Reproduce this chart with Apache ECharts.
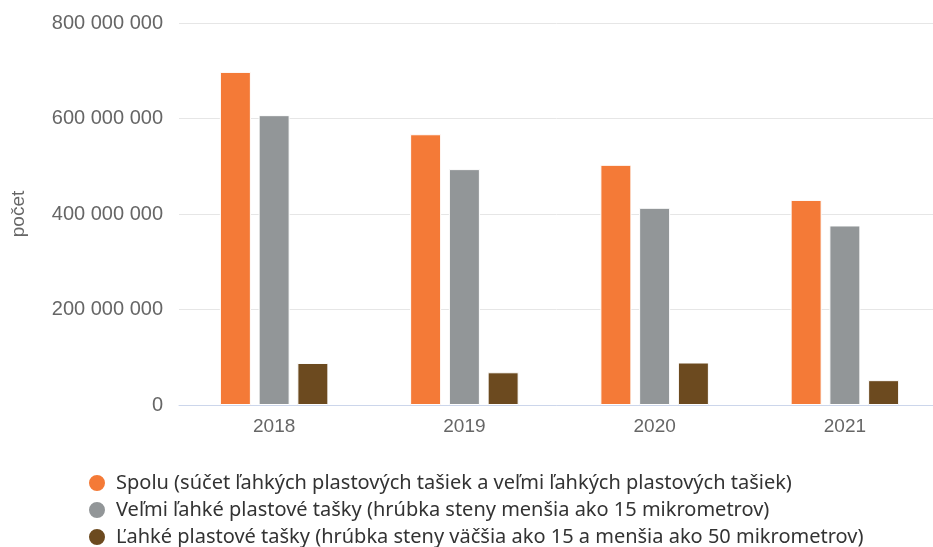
<!DOCTYPE html>
<html>
<head>
<meta charset="utf-8">
<script src="https://cdn.jsdelivr.net/npm/echarts@6/dist/echarts.min.js"></script>
<style>
html,body{margin:0;padding:0;background:#fff;}
#chart{width:933px;height:547px;}
</style>
</head>
<body>
<div id="chart"></div>
<script>
var years = ['2018', '2019', '2020', '2021'];
var seriesNames = [
  'Spolu (súčet ľahkých plastových tašiek a veľmi ľahkých plastových tašiek)',
  'Veľmi ľahké plastové tašky (hrúbka steny menšia ako 15 mikrometrov)',
  'Ľahké plastové tašky (hrúbka steny väčšia ako 15 a menšia ako 50 mikrometrov)'
];
var spolu = [697600000, 567000000, 503000000, 429500000];
var velmiLahke = [607000000, 494000000, 413000000, 376000000];
var lahke = [88000000, 68500000, 89000000, 52000000];
var colors = ['#f47a37', '#929698', '#6c4a1f'];

function fmt(v) {
  return String(v).replace(/\B(?=(\d{3})+(?!\d))/g, ' ');
}

var chart = echarts.init(document.getElementById('chart'));

var data = [spolu, velmiLahke, lahke];
var series = [];
for (var i = 0; i < 3; i++) {
  series.push({
    name: seriesNames[i],
    type: 'bar',
    data: data[i],
    barWidth: 31,
    barGap: '25%',
    itemStyle: { color: colors[i], borderColor: '#fff', borderWidth: 1 }
  });
}

var option = {
  animation: false,
  textStyle: { fontFamily: 'Liberation Sans' },
  grid: { left: 179, right: -7, top: 23, bottom: 142, containLabel: false, outerBoundsMode: 'none' },
  legend: {
    orient: 'vertical',
    left: 87,
    top: 473,
    padding: 0,
    height: 80,
    icon: 'circle',
    itemWidth: 28,
    itemHeight: 18,
    itemGap: 7,
    textStyle: { fontFamily: 'Noto Sans', fontSize: 20, lineHeight: 20, color: '#333' },
    data: seriesNames
  },
  xAxis: {
    type: 'category',
    data: years,
    axisLine: { lineStyle: { color: '#ccd6eb' } },
    axisTick: { show: false },
    axisLabel: { color: '#666', fontSize: 19, margin: 12 }
  },
  yAxis: {
    type: 'value',
    min: 0,
    max: 800000000,
    interval: 200000000,
    name: 'počet',
    nameLocation: 'middle',
    nameGap: 151,
    nameTextStyle: { color: '#666', fontSize: 19 },
    axisLabel: { color: '#666', fontSize: 20, margin: 16, formatter: fmt },
    splitLine: { lineStyle: { color: '#e6e6e6', width: 1 } }
  },
  series: series
};

chart.setOption(option);
</script>
</body>
</html>
